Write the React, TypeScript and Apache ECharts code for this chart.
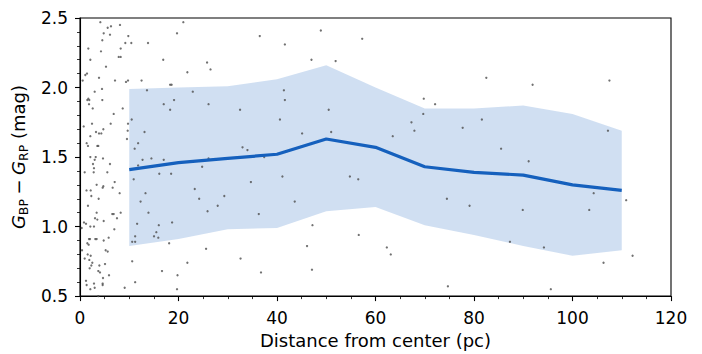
import React, { useEffect, useRef } from "react";
import * as echarts from "echarts";

const binCenters = [10, 20, 30, 40, 50, 60, 70, 80, 90, 100, 110];
const meanColor = [1.41, 1.46, 1.49, 1.52, 1.63, 1.57, 1.43, 1.39, 1.37, 1.30, 1.26];
const upperBand = [1.99, 2.0, 2.01, 2.06, 2.16, 2.0, 1.85, 1.85, 1.87, 1.81, 1.69];
const lowerBand = [0.86, 0.91, 0.98, 0.99, 1.11, 1.14, 1.01, 0.94, 0.86, 0.79, 0.83];

const xTicks = [0, 20, 40, 60, 80, 100, 120];
const yTicks = [0.5, 1.0, 1.5, 2.0, 2.5];

const scatterPoints: [number, number][] = [
  [4.13, 2.47], [6.29, 2.44], [5.62, 2.43], [8.12, 2.45], [20.98, 2.47], [4.81, 2.39], [6.09, 2.38], [19.7, 2.39],
  [9.81, 2.37], [4.53, 2.34], [9.2, 2.32], [10.42, 2.32], [13.81, 2.32], [1.69, 2.28], [8.26, 2.28], [4.26, 2.26],
  [7.86, 2.22], [8.26, 2.22], [2.1, 2.2], [16.9, 2.2], [25.8, 2.18], [5.28, 2.15], [26.5, 2.13], [21.8, 2.11],
  [1.42, 2.1], [1.08, 2.09], [3.86, 2.07], [7.11, 2.05], [9.75, 2.05], [9.34, 2.04], [12.5, 2.05], [18.6, 2.02],
  [18.3, 2.02], [0.54, 2.05], [2.98, 1.97], [4.47, 1.99], [13.6, 1.98], [22.9, 1.97], [1.69, 1.92], [1.49, 1.91],
  [1.89, 1.91], [4.53, 1.91], [1.83, 1.88], [17.0, 1.88], [19.1, 1.91], [26.1, 1.88], [32.5, 1.84], [2.58, 1.85],
  [8.67, 1.85], [18.3, 1.84], [6.84, 1.81], [10.5, 1.77], [2.44, 1.74], [6.23, 1.74], [9.75, 1.74], [0.75, 1.72],
  [4.74, 1.7], [3.25, 1.68], [3.86, 1.67], [4.33, 1.67], [13.1, 1.68], [2.1, 1.65], [9.68, 1.69], [9.54, 1.63],
  [1.35, 1.6], [11.8, 1.6], [1.62, 1.58], [3.52, 1.58], [3.72, 1.58], [11.1, 1.56], [33.0, 1.57], [34.0, 1.55],
  [2.1, 1.5], [3.19, 1.5], [4.67, 1.49], [14.5, 1.49], [12.7, 1.48],
  [2.98, 1.48], [17.0, 1.48], [26.1, 1.49], [2.64, 1.45], [6.09, 1.45], [2.84, 1.42], [2.78, 1.39], [0.95, 1.39],
  [5.55, 1.39], [11.8, 1.44], [16.1, 1.38], [18.5, 1.38], [24.8, 1.43], [10.9, 1.34], [7.04, 1.32], [3.38, 1.3],
  [4.74, 1.29], [4.6, 1.28], [6.63, 1.28], [1.32, 1.26], [2.17, 1.26], [2.3, 1.22], [8.05, 1.24], [13.3, 1.24],
  [3.79, 1.2], [23.3, 1.27], [24.2, 1.2], [29.3, 1.22], [12.3, 1.18], [1.62, 1.15], [27.96, 1.15], [3.38, 1.1],
  [6.56, 1.09], [6.84, 1.09], [8.26, 1.1], [13.9, 1.1], [25.9, 1.11], [3.05, 1.06], [3.52, 1.05], [7.51, 1.06],
  [0.81, 1.03], [1.22, 1.02], [0.34, 0.99], [2.1, 1.0], [2.84, 1.0], [4.81, 1.04], [11.6, 1.02], [16.0, 1.01],
  [18.7, 1.03], [6.97, 0.98], [15.5, 0.96], [1.83, 0.91], [2.03, 0.91], [3.11, 0.91], [3.38, 0.91], [5.82, 0.92],
  [11.2, 0.93], [15.03, 0.93], [15.9, 0.92], [10.6, 0.89], [11.2, 0.89], [4.81, 0.9], [18.1, 0.88], [1.49, 0.88],
  [1.76, 0.87], [5.21, 0.83], [5.62, 0.82], [25.6, 0.84], [0.41, 0.83], [1.56, 0.8], [2.17, 0.79], [0.95, 0.77],
  [1.89, 0.76], [2.5, 0.74], [2.3, 0.72], [10.6, 0.75], [21.8, 0.74], [32.6, 0.77], [3.93, 0.72], [5.08, 0.73],
  [1.96, 0.7], [3.72, 0.68], [4.06, 0.67], [16.65, 0.68], [4.67, 0.63], [5.89, 0.65], [19.8, 0.65], [1.22, 0.61],
  [1.35, 0.58], [2.84, 0.59], [4.6, 0.59], [4.6, 0.58], [11.2, 0.6], [9.07, 0.56], [2.1, 0.55], [2.98, 0.56],
  [19.7, 0.55], [3.72, 0.5],
  [36.5, 2.37], [48.9, 2.41], [41.6, 2.31], [57.3, 2.35], [47.0, 2.2], [51.9, 2.19], [41.4, 1.98], [41.6, 1.91],
  [50.5, 1.84], [40.6, 1.77], [45.1, 1.67], [51.0, 1.68], [63.5, 1.65], [67.3, 1.75], [67.9, 1.69], [69.7, 1.81],
  [69.8, 1.92], [72.1, 1.88], [37.4, 1.5],
  [41.1, 1.36], [34.7, 1.32], [54.8, 1.36], [56.5, 1.34], [43.6, 1.18], [36.3, 1.09], [74.5, 1.2], [47.2, 1.01],
  [56.6, 0.94], [46.1, 0.86], [62.3, 0.85], [63.1, 0.8], [36.75, 0.67], [47.1, 0.69], [74.7, 0.57],
  [82.5, 2.07], [91.9, 2.02], [107.5, 2.05], [81.6, 1.77], [77.7, 1.71], [107.2, 1.69], [85.5, 1.56],
  [91.1, 1.47], [79.1, 1.15], [89.9, 1.12], [103.4, 1.12], [104.3, 1.24], [110.9, 1.19], [87.3, 0.89], [94.2, 0.85],
  [112.2, 0.79], [106.3, 0.74], [95.6, 0.55],
];

const FONT = "DejaVu Sans";
const FS = 17;
const NFS = 18;

export default function App() {
  const ref = useRef<HTMLDivElement>(null);
  useEffect(() => {
    if (!ref.current) return;
    const chart = echarts.init(ref.current, undefined, { renderer: "svg" });
    const bandData = binCenters.map((x, i) => [x, upperBand[i], lowerBand[i]]);
    chart.setOption({
      animation: false,
      backgroundColor: "#ffffff",
      grid: {
        left: 80,
        right: 31,
        top: 18,
        bottom: 56,
        show: true,
        borderColor: "#000",
        borderWidth: 1.1,
        backgroundColor: "transparent",
      },
      xAxis: {
        type: "value",
        min: xTicks[0],
        max: xTicks[xTicks.length - 1],
        interval: 20,
        axisLine: { show: true, onZero: false, lineStyle: { color: "#000", width: 1.1 } },
        axisTick: { show: true, inside: false, length: 5, lineStyle: { color: "#000", width: 1.1 } },
        minorTick: { show: true, splitNumber: 4, length: 3, lineStyle: { color: "#000", width: 0.8 } },
        splitLine: { show: false },
        axisLabel: { color: "#000", fontFamily: FONT, fontSize: FS, margin: 13 },
        name: "Distance from center (pc)",
        nameLocation: "middle",
        nameGap: 34,
        nameTextStyle: { color: "#000", fontFamily: FONT, fontSize: NFS },
      },
      yAxis: {
        type: "value",
        min: yTicks[0],
        max: yTicks[yTicks.length - 1],
        interval: 0.5,
        axisLine: { show: true, onZero: false, lineStyle: { color: "#000", width: 1.1 } },
        axisTick: { show: true, inside: false, length: 5, lineStyle: { color: "#000", width: 1.1 } },
        minorTick: { show: true, splitNumber: 5, length: 3, lineStyle: { color: "#000", width: 0.8 } },
        splitLine: { show: false },
        axisLabel: {
          color: "#000",
          fontFamily: FONT,
          fontSize: FS,
          margin: 12,
          formatter: (v: number) => v.toFixed(1),
        },
        name: "{g|G}{s|BP}{m|\u2005\u2212\u2005}{g|G}{s|RP}{m| (mag)}",
        nameLocation: "middle",
        nameGap: 47,
        nameRotate: 90,
        nameTextStyle: {
          color: "#000",
          fontFamily: FONT,
          fontSize: NFS,
          rich: {
            g: { fontFamily: FONT, fontSize: NFS, fontStyle: "italic", color: "#000", lineHeight: 24, verticalAlign: "middle" },
            m: { fontFamily: FONT, fontSize: NFS, color: "#000", lineHeight: 24, verticalAlign: "middle" },
            s: { fontFamily: FONT, fontSize: 12.5, color: "#000", lineHeight: 13, verticalAlign: "bottom" },
          },
        },
      },
      series: [
        {
          type: "custom",
          z: 1,
          silent: true,
          data: bandData,
          encode: { x: 0, y: [1, 2] },
          renderItem: (params: any, api: any) => {
            if (params.dataIndex !== 0) return null;
            const top = bandData.map((d) => api.coord([d[0], d[1]]));
            const bottom = bandData.map((d) => api.coord([d[0], d[2]])).reverse();
            return {
              type: "polygon",
              shape: { points: top.concat(bottom) },
              style: { fill: "rgba(21,96,189,0.2)", stroke: "none" },
            };
          },
        },
        {
          type: "scatter",
          z: 2,
          data: scatterPoints,
          symbol: "circle",
          symbolSize: 2.3,
          itemStyle: { color: "#4d4d4d", opacity: 0.8 },
          silent: true,
        },
        {
          type: "line",
          z: 3,
          data: binCenters.map((x, i) => [x, meanColor[i]]),
          symbol: "none",
          lineStyle: { color: "#1560bd", width: 3.2 },
          silent: true,
        },
      ],
    });
    return () => chart.dispose();
  }, []);
  return (
    <div
      ref={ref}
      style={{ position: "fixed", left: 0, top: 0, width: 702, height: 354, background: "#fff" }}
    />
  );
}
